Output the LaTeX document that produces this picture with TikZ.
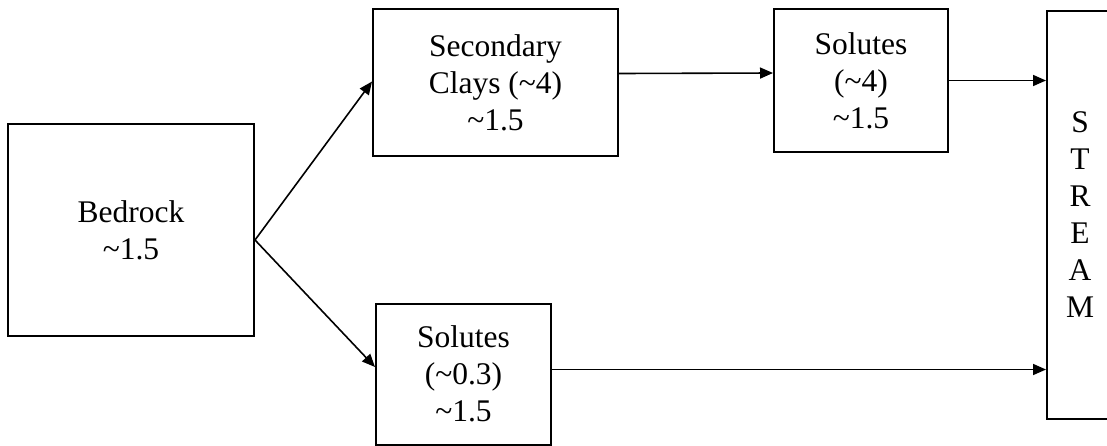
\documentclass[tikz,border=0pt]{standalone}
\usepackage{fontspec}
\setmainfont{Liberation Serif}
\usetikzlibrary{arrows.meta,positioning}

\tikzset{
  box/.style={draw=black, line width=2pt, fill=white, inner sep=0pt,
    align=center, font=\fontsize{31.5}{37}\selectfont},
  flow/.style={draw=black, line width=1.6pt,
    -{Triangle[length=13pt,width=11pt]}},
}

\begin{document}
\begin{tikzpicture}[x=1pt, y=-1pt]
  \useasboundingbox (0,0) rectangle (1107,445);
  \clip (0,0) rectangle (1107,445);

  % boxes
  \node[box, minimum width=246pt, minimum height=212pt] (bed) at (131,230)
    {Bedrock\\\textasciitilde1.5};
  \node[box, minimum width=245pt, minimum height=147pt] (clay) at (495.5,82.5)
    {Secondary\\Clays (\textasciitilde4)\\\textasciitilde1.5};
  \node[box, minimum width=174pt, minimum height=143pt] (solA) at (861,80.5)
    {Solutes\\(\textasciitilde4)\\\textasciitilde1.5};
  \node[box, minimum width=175pt, minimum height=141pt] (solB) at (463.5,374)
    {Solutes\\(\textasciitilde0.3)\\\textasciitilde1.5};
  \node[box, minimum width=66pt, minimum height=408pt] (stream) at (1080,215)
    {S\\T\\R\\E\\A\\M};

  % connectors
  \coordinate (fork) at ([yshift=-10pt]bed.east);
  \draw[flow] (fork) -- ([yshift=1pt]clay.west);
  \draw[flow] (fork) -- ([yshift=7pt]solB.west);
  \draw[flow] ([yshift=9pt]clay.east) -- ([yshift=7.5pt]solA.west);
  \draw[flow] (solA.east) -- (solA.east -| stream.west);
  \draw[flow] ([yshift=4.5pt]solB.east) -- ([yshift=4.5pt]solB.east -| stream.west);
\end{tikzpicture}
\end{document}
